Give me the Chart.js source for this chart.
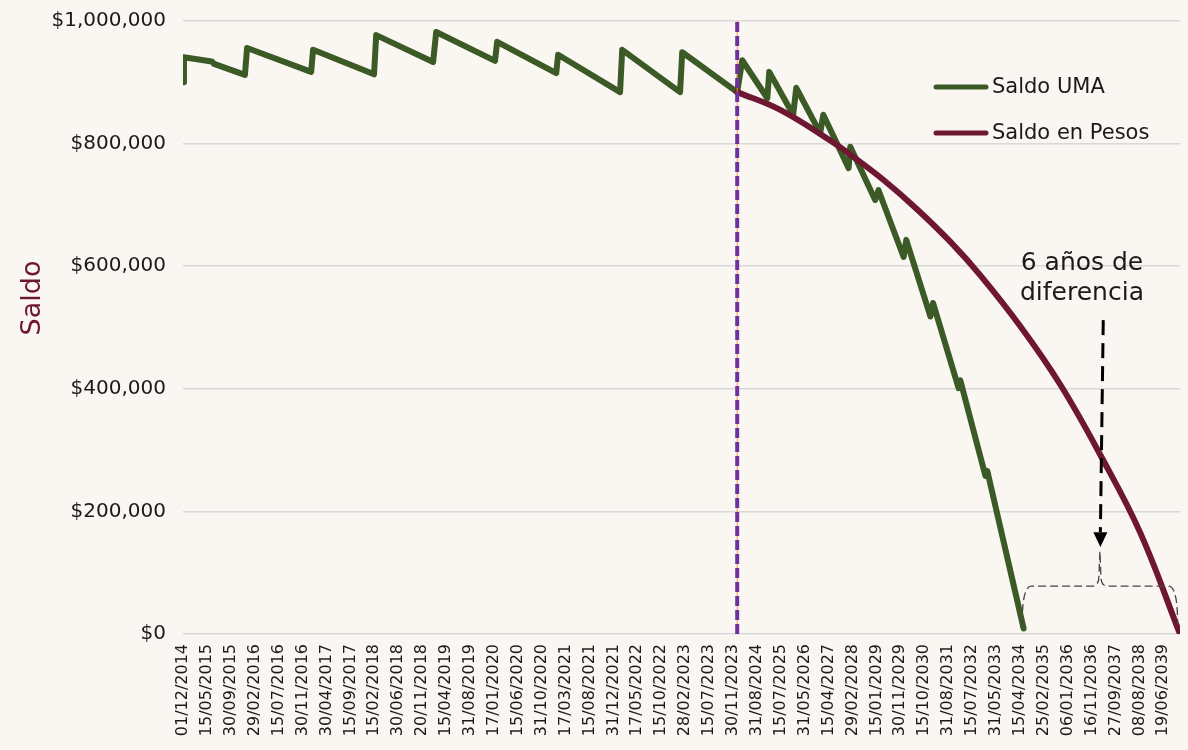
<!DOCTYPE html>
<html>
<head>
<meta charset="utf-8">
<script src="https://cdn.jsdelivr.net/npm/chart.js@4.4.1/dist/chart.umd.min.js"></script>
<style>
  html, body { margin: 0; padding: 0; background: #faf7f3; }
  #wrap { width: 1188px; height: 750px; }
</style>
</head>
<body>
<div id="wrap"><canvas id="saldo" width="1188" height="750"></canvas></div>
<script>
// Tick labels of the time axis (one per category step)
var tickLabels = [
    '01/12/2014', '15/05/2015', '30/09/2015', '29/02/2016', '15/07/2016', '30/11/2016',
    '30/04/2017', '15/09/2017', '15/02/2018', '30/06/2018', '20/11/2018', '15/04/2019',
    '31/08/2019', '17/01/2020', '15/06/2020', '31/10/2020', '17/03/2021', '15/08/2021',
    '31/12/2021', '17/05/2022', '15/10/2022', '28/02/2023', '15/07/2023', '30/11/2023',
    '31/08/2024', '15/07/2025', '31/05/2026', '15/04/2027', '29/02/2028', '15/01/2029',
    '30/11/2029', '15/10/2030', '31/08/2031', '15/07/2032', '31/05/2033', '15/04/2034',
    '25/02/2035', '06/01/2036', '16/11/2036', '27/09/2037', '08/08/2038', '19/06/2039'
];

// Saldo UMA: position on the time axis (tick steps) and balance
var umaPos = [
    0, 0.04, 1.2, 1.3, 2.59, 2.68, 5.36, 5.44, 7.99, 8.08, 10.46, 10.59, 13.05, 13.14,
    15.61, 15.69, 18.28, 18.37, 20.79, 20.88, 23.18, 23.39, 24.44, 24.52,
    25.52, 25.65, 26.65, 26.78, 27.84, 27.91, 28.95, 29.09, 30.14, 30.25,
    31.26, 31.37, 32.44, 32.51, 33.56, 33.64, 35.16
];
var umaSaldo = [
    900000, 941000, 934000, 930000, 912000, 956000, 917000, 953000, 913000, 977000, 933000, 982000, 935000, 966000,
    915000, 945000, 884000, 953000, 884000, 949000, 884000, 936000, 874000, 917000,
    847000, 891000, 817000, 847000, 760000, 795000, 708000, 724000, 615000, 643000,
    518000, 540000, 401000, 414000, 258000, 266000, 9000
];

// Saldo en Pesos
var pesosPos = [23.18, 24.98, 27.07, 27.91, 29.29, 30.70, 32.09, 33.35, 35.02, 36.69, 38.37, 40.04, 41.70];
var pesosSaldo = [884000, 855000, 805000, 782000, 741000, 693000, 640000, 585000, 502000, 407000, 292000, 165000, 0];

// Cut date (vertical marker)
var cortePos = 23.18;

var FONT = "'DejaVu Sans', sans-serif";
var GREEN = '#3b5a25';
var MAROON = '#6e1733';
var PURPLE = '#7030a0';

function points(xs, ys) {
    return xs.map(function (x, i) { return {x: x, y: ys[i]}; });
}

var bgPlugin = {
    id: 'bg',
    beforeDraw: function (chart) {
        var ctx = chart.ctx;
        ctx.save();
        ctx.fillStyle = '#faf7f3';
        ctx.fillRect(0, 0, chart.width, chart.height);
        ctx.restore();
    }
};

var notesPlugin = {
    id: 'notes',
    afterDraw: function (chart) {
        var ctx = chart.ctx;
        var xs = chart.scales.x, ys = chart.scales.y;
        var ds = chart.data.datasets;
        ctx.save();

        // Axis title
        ctx.save();
        ctx.translate(33, 298);
        ctx.rotate(-Math.PI / 2);
        ctx.font = '27px ' + FONT;
        ctx.fillStyle = MAROON;
        ctx.textAlign = 'center';
        ctx.textBaseline = 'middle';
        ctx.fillText('Saldo', 0, 0);
        ctx.restore();

        // Legend
        var legend = [ds[3], ds[2]];
        ctx.font = '21px ' + FONT;
        ctx.textBaseline = 'middle';
        ctx.textAlign = 'left';
        legend.forEach(function (d, i) {
            var y = 87 + i * 46;
            ctx.strokeStyle = d.borderColor;
            ctx.lineWidth = 5;
            ctx.lineCap = 'round';
            ctx.beginPath();
            ctx.moveTo(936, y);
            ctx.lineTo(986, y);
            ctx.stroke();
            ctx.fillStyle = '#1a1a1a';
            ctx.fillText(d.label, 992, y + 1);
        });

        // Note text
        ctx.font = '25px ' + FONT;
        ctx.textAlign = 'center';
        ctx.fillStyle = '#1a1a1a';
        ctx.fillText('6 años de', xs.getPixelForValue(37.6), ys.getPixelForValue(605000));
        ctx.fillText('diferencia', xs.getPixelForValue(37.6), ys.getPixelForValue(555000));

        // Dashed arrow
        var ax0 = xs.getPixelForValue(38.49), ay0 = ys.getPixelForValue(512000);
        var ax1 = xs.getPixelForValue(38.37), ay1 = ys.getPixelForValue(166000);
        var tipY = ys.getPixelForValue(142000);
        ctx.strokeStyle = '#000';
        ctx.lineWidth = 3;
        ctx.lineCap = 'butt';
        ctx.setLineDash([15, 8]);
        ctx.beginPath();
        ctx.moveTo(ax0, ay0);
        ctx.lineTo(ax1, ay1);
        ctx.stroke();
        ctx.setLineDash([]);
        ctx.fillStyle = '#000';
        ctx.beginPath();
        ctx.moveTo(ax1 - 7, ay1);
        ctx.lineTo(ax1 + 7, ay1);
        ctx.lineTo(ax1, tipY);
        ctx.closePath();
        ctx.fill();

        // Bracket between both end dates
        var bl = xs.getPixelForValue(35.1), br = xs.getPixelForValue(41.6);
        var bc = xs.getPixelForValue(38.35);
        var hy = ys.getPixelForValue(78000), by = ys.getPixelForValue(16000);
        var ty = ys.getPixelForValue(135000);
        ctx.strokeStyle = '#444';
        ctx.lineWidth = 1.3;
        ctx.setLineDash([8, 4]);
        ctx.beginPath();
        ctx.moveTo(bl, by);
        ctx.quadraticCurveTo(bl, hy, bl + 9, hy);
        ctx.lineTo(bc - 8, hy);
        ctx.quadraticCurveTo(bc - 1, hy, bc - 1, hy - 10);
        ctx.lineTo(bc, ty);
        ctx.lineTo(bc + 1, hy - 10);
        ctx.quadraticCurveTo(bc + 1, hy, bc + 8, hy);
        ctx.lineTo(br - 9, hy);
        ctx.quadraticCurveTo(br, hy, br, by);
        ctx.stroke();

        ctx.restore();
    }
};

var canv = document.getElementById('saldo');

var saldo_options = {
    type: 'line',
    data: {
        datasets: [
            {
                label: 'corte',
                data: points([cortePos, cortePos], [0, 1000000]),
                borderColor: PURPLE,
                borderWidth: 4,
                borderDash: [10, 4],
                pointRadius: 0
            },
            {
                label: 'corte2',
                data: points([cortePos, cortePos], [0, 1000000]),
                borderColor: '#f39c3c',
                borderWidth: 1,
                pointRadius: 0
            },
            {
                label: 'Saldo en Pesos',
                data: points(pesosPos, pesosSaldo),
                borderColor: MAROON,
                borderWidth: 6,
                pointRadius: 0,
                tension: 0.4,
                borderCapStyle: 'round'
            },
            {
                label: 'Saldo UMA',
                data: points(umaPos, umaSaldo),
                borderColor: GREEN,
                borderWidth: 6,
                pointRadius: 0,
                tension: 0,
                borderJoinStyle: 'round',
                borderCapStyle: 'round'
            }
        ]
    },
    options: {
        responsive: false,
        animation: false,
        layout: {
            padding: {left: 14, right: 8, top: 21, bottom: 0}
        },
        plugins: {
            legend: {display: false},
            tooltip: {enabled: false}
        },
        scales: {
            x: {
                type: 'linear',
                min: 0,
                max: 41.7,
                afterFit: function (s) {
                    s.height = 116;
                    s.paddingLeft = 0;
                    s.paddingRight = 0;
                },
                grid: {display: false, drawTicks: false},
                border: {display: false},
                ticks: {
                    stepSize: 1,
                    includeBounds: false,
                    autoSkip: false,
                    maxRotation: 90,
                    minRotation: 90,
                    padding: 10,
                    color: '#1a1a1a',
                    font: {family: FONT, size: 16},
                    callback: function (v) {
                        return tickLabels[v];
                    }
                }
            },
            y: {
                min: 0,
                max: 1000000,
                afterFit: function (s) {
                    s.width = 169;
                    s.paddingTop = 0;
                    s.paddingBottom = 0;
                },
                grid: {color: '#d9d9d9', lineWidth: 1.5, drawTicks: false},
                border: {display: false},
                ticks: {
                    stepSize: 200000,
                    padding: 17,
                    color: '#1a1a1a',
                    font: {family: FONT, size: 20},
                    callback: function (v) {
                        return '$' + v.toLocaleString('en-US');
                    }
                }
            }
        }
    },
    plugins: [bgPlugin, notesPlugin]
};

var chart = new Chart(canv, saldo_options);
</script>
</body>
</html>
